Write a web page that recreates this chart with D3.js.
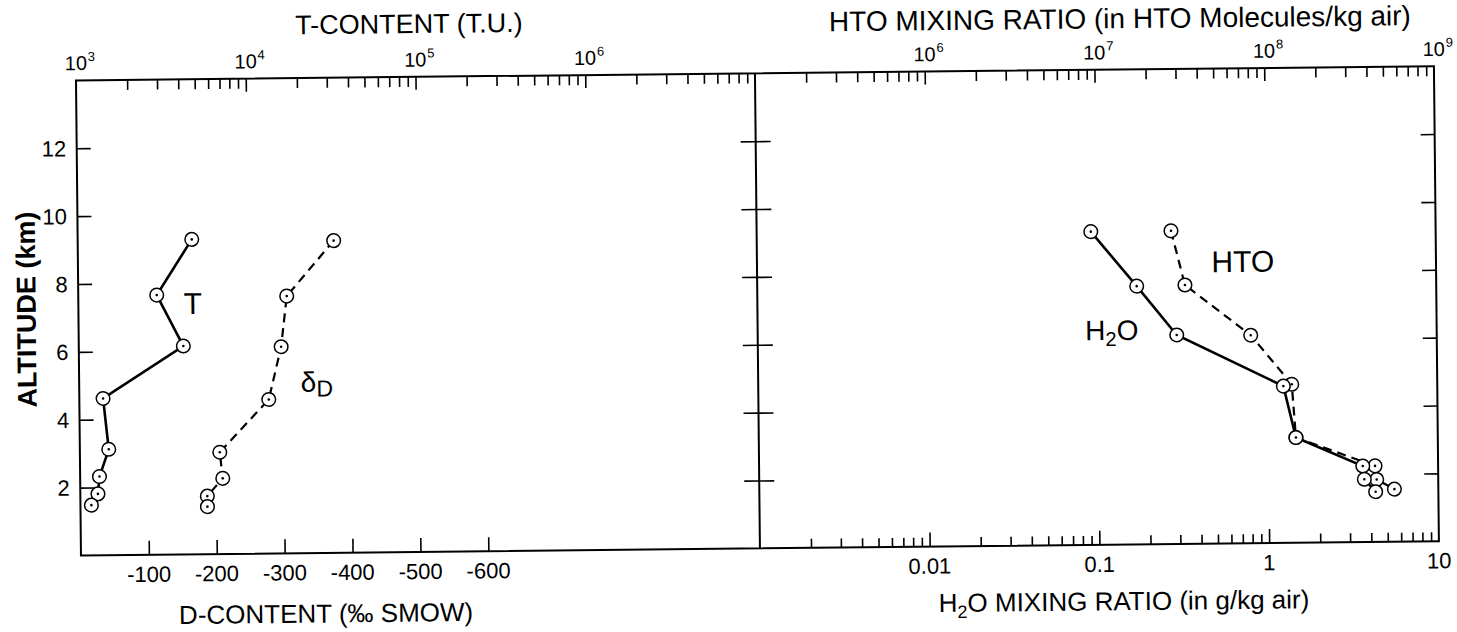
<!DOCTYPE html>
<html>
<head>
<meta charset="utf-8">
<script src="https://cdn.jsdelivr.net/npm/d3@7"></script>
<style>
  html, body { margin: 0; padding: 0; background: #fff; }
  svg { display: block; font-family: 'Liberation Sans', Arial, sans-serif; }
  text { fill: #000; }
</style>
</head>
<body>
<div id="chart"></div>
<script>
'use strict'

// altitude profiles (km)
const altitudeT = [9.28, 7.65, 6.14, 4.62, 3.12, 2.32, 1.81, 1.48]
const tContent = [4700, 2900, 4130, 1380, 1480, 1300, 1270, 1160]
const altitudeD = [9.2, 7.58, 6.09, 4.54, 3.0, 2.23, 1.71, 1.4]
const dContent = [-377, -307, -298, -279, -206, -210, -187, -187]
const altitudeH2O = [9.23, 7.61, 6.16, 4.62, 3.1, 2.24, 1.85, 1.48]
const h2oRatio = [0.093, 0.172, 0.294, 1.24, 1.46, 3.6, 3.67, 4.27]
const altitudeHTO = [9.23, 7.63, 6.13, 4.67, 3.1, 2.24, 1.84, 1.55]
const htoRatio = [2.76e7, 3.31e7, 8.02e7, 1.39e8, 1.46e8, 4.25e8, 4.34e8, 5.51e8]

// tick labels
const tTicks = [1e3, 1e4, 1e5, 1e6]
const htoTicks = [1e6, 1e7, 1e8, 1e9]
const h2oTicks = [0.01, 0.1, 1, 10]
const h2oLabels = ['0.01', '0.1', '1', '10']
const dTicks = [-100, -200, -300, -400, -500, -600]
const altTicks = [2, 4, 6, 8, 10, 12]

const width = 1457,
		height = 632
const frameLeft = 78.5, frameMid = 757.5, frameRight = 1436.5, frameTop = 73.3, frameBottom = 548.4

const svg = d3.select('#chart').append('svg')
	.attr('width', width)
	.attr('height', height)

// the scanned figure sits slightly tilted
const g = svg.append('g')
	.attr('transform', 'rotate(-0.6, 757, 316)')

const y = d3.scaleLinear().domain([0, 14]).range([frameBottom, frameTop])
const xT = d3.scaleLog().domain([1e3, 1e7]).range([frameLeft, frameMid])
const xD = d3.scaleLinear().domain([0, -1000]).range([frameLeft, frameMid])
const xHTO = d3.scaleLog().domain([1e5, 1e9]).range([frameMid, frameRight])
const xH2O = d3.scaleLog().domain([1e-3, 1e1]).range([frameMid, frameRight])

const isDecade = (v) => Math.abs(Math.log10(v) - Math.round(Math.log10(v))) < 1e-6

const tickAxis = (axis, scale, values, size, tx, ty) => {
	const a = g.append('g')
		.attr('transform', `translate(${tx},${ty})`)
		.call(axis(scale).tickValues(values).tickSizeInner(size).tickSizeOuter(0).tickFormat(''))
	a.select('.domain').remove()
	a.selectAll('line').attr('stroke', '#000').attr('stroke-width', 1.6)
}

// log ticks, top and bottom
const logTicks = (scale) => {
	const t = scale.ticks()
	const d = scale.domain()
	return {
		major: t.filter((v) => isDecade(v) && v > d[0] * 1.001 && v < d[1] * 0.999),
		minor: t.filter((v) => !isDecade(v))
	}
}
const tt = logTicks(xT), ht = logTicks(xHTO), wt = logTicks(xH2O)
tickAxis(d3.axisTop, xT, tt.major, -13, 0, frameTop)
tickAxis(d3.axisTop, xT, tt.minor, -10, 0, frameTop)
tickAxis(d3.axisTop, xHTO, ht.major, -13, 0, frameTop)
tickAxis(d3.axisTop, xHTO, ht.minor, -10, 0, frameTop)
tickAxis(d3.axisBottom, xH2O, wt.major, -14, 0, frameBottom)
tickAxis(d3.axisBottom, xH2O, wt.minor, -9, 0, frameBottom)
tickAxis(d3.axisBottom, xD, dTicks, -14, 0, frameBottom)

// altitude ticks: left, middle (both sides), right
tickAxis(d3.axisLeft, y, altTicks, -14, frameLeft, 0)
tickAxis(d3.axisRight, y, altTicks, -14, frameRight, 0)
tickAxis(d3.axisLeft, y, altTicks, 15, frameMid, 0)
tickAxis(d3.axisRight, y, altTicks, 15, frameMid, 0)

// frame
g.append('rect')
	.attr('x', frameLeft).attr('y', frameTop)
	.attr('width', frameRight - frameLeft).attr('height', frameBottom - frameTop)
	.attr('fill', 'none').attr('stroke', '#000').attr('stroke-width', 2)
g.append('line')
	.attr('x1', frameMid).attr('x2', frameMid).attr('y1', frameTop).attr('y2', frameBottom)
	.attr('stroke', '#000').attr('stroke-width', 2)

// series
const series = (xs, ys, xScale, dashed) => {
	const pts = xs.map((v, i) => [xScale(v), y(ys[i])])
	g.append('path')
		.attr('d', d3.line()(pts))
		.attr('fill', 'none')
		.attr('stroke', '#000')
		.attr('stroke-width', dashed ? 2.2 : 2.6)
		.attr('stroke-dasharray', dashed ? '9,6' : null)
	const m = g.append('g').selectAll('g')
		.data(pts)
		.enter().append('g')
			.attr('transform', (d) => `translate(${d[0]},${d[1]})`)
	m.append('circle').attr('r', 6.8).attr('fill', '#fff').attr('stroke', '#000').attr('stroke-width', 1.5)
	m.append('circle').attr('r', 1.3).attr('fill', '#000')
}
series(tContent, altitudeT, xT, false)
series(dContent, altitudeD, xD, true)
series(htoRatio, altitudeHTO, xHTO, true)
series(h2oRatio, altitudeH2O, xH2O, false)

// labels
const text = (x, yy, str, size, anchor) => g.append('text')
	.attr('x', x).attr('y', yy)
	.attr('font-size', size)
	.attr('text-anchor', anchor || 'middle')
	.text(str)

const power = (x, v) => {
	text(x, 63, '10', 20)
	text(x + 12, 54, String(Math.round(Math.log10(v))), 13, 'start')
}
tTicks.forEach((v) => power(xT(v), v))
htoTicks.forEach((v) => power(xHTO(v), v))
h2oTicks.forEach((v, i) => text(xH2O(v), 575.5, h2oLabels[i], 22))
dTicks.forEach((v) => text(xD(v), 575.5, String(v), 22))
altTicks.forEach((v) => text(68, y(v), String(v), 22, 'end').attr('dy', '0.36em'))

text(412, 29.5, 'T-CONTENT (T.U.)', 27)
text(1123, 32, 'HTO MIXING RATIO (in HTO Molecules/kg air)', 28)
text(323, 618, 'D-CONTENT (‰ SMOW)', 26)

const h2oTitle = text(1121, 614, 'H', 26)
h2oTitle.append('tspan').attr('font-size', 18).attr('dy', 6).text('2')
h2oTitle.append('tspan').attr('dy', -6).text('O MIXING RATIO (in g/kg air)')

g.append('text')
	.attr('transform', 'translate(26,302) rotate(-90)')
	.attr('text-anchor', 'middle')
	.attr('dy', '0.36em')
	.attr('font-size', 27)
	.attr('font-weight', 'bold')
	.text('ALTITUDE (km)')

// series names
text(193, 308, 'T', 30)
const dLabel = text(300, 387, 'δ', 28, 'start')
dLabel.append('tspan').attr('font-size', 23).attr('dy', 5).text('D')
text(1212, 277, 'HTO', 30, 'start')
const wLabel = text(1085, 343.7, 'H', 28, 'start')
wLabel.append('tspan').attr('font-size', 20).attr('dy', 6).text('2')
wLabel.append('tspan').attr('dy', -6).text('O')
</script>
</body>
</html>
